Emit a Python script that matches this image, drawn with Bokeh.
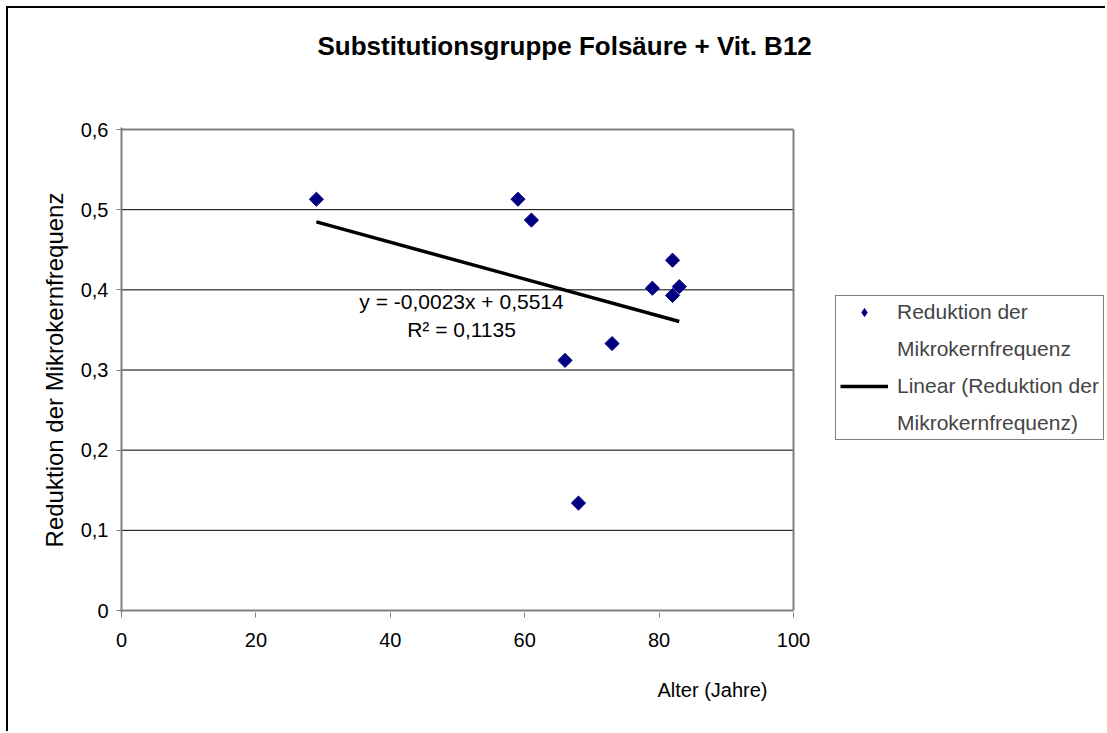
import numpy as np
from bokeh.plotting import figure
from bokeh.models import Legend, LegendItem, Label, Title, Range1d
from bokeh.embed import file_html
from bokeh.resources import INLINE

# ---------------- data ----------------
title_text = "Substitutionsgruppe Folsäure + Vit. B12"
x_label = "Alter (Jahre)"
y_label = "Reduktion der Mikrokernfrequenz"

age = [29, 59, 61, 66, 68, 73, 79, 82, 82, 83]
reduction = [0.513, 0.513, 0.487, 0.312, 0.134, 0.333, 0.402, 0.437, 0.393, 0.404]

series_name_lines = ["Reduktion der", "Mikrokernfrequenz"]
trend_name_lines = ["Linear (Reduktion der", "Mikrokernfrequenz)"]
trend_slope = -0.0023
trend_intercept = 0.5514
equation_text = "y = -0,0023x + 0,5514\nR² = 0,1135"

x_axis_min, x_axis_max = 0, 100
y_axis_min, y_axis_max = 0, 0.6
x_ticks = [0, 20, 40, 60, 80, 100]
x_tick_labels = ["0", "20", "40", "60", "80", "100"]
y_ticks = [0, 0.1, 0.2, 0.3, 0.4, 0.5, 0.6]
y_tick_labels = ["0", "0,1", "0,2", "0,3", "0,4", "0,5", "0,6"]

# ---------------- layout (pixels) ----------------
FONT = "Liberation Sans"
GRAY = "#808080"
CANVAS_W, CANVAS_H = 1099, 725          # canvas starts at (8, 8) on the page
PLOT_LEFT, PLOT_RIGHT = 121, 793         # page x of the plot area edges
PLOT_TOP, PLOT_BOTTOM = 129, 610         # page y of the plot area edges
FRAME_RIGHT = 1106                       # frame extends under the legend
PAD = 2                                  # keeps border lines unclipped

x_end = x_axis_max * (FRAME_RIGHT - PLOT_LEFT) / (PLOT_RIGHT - PLOT_LEFT)
y_per_px = (y_axis_max - y_axis_min) / (PLOT_BOTTOM - PLOT_TOP)

p = figure(width=CANVAS_W, height=CANVAS_H,
           x_range=Range1d(x_axis_min, x_end),
           y_range=Range1d(y_axis_min - PAD * y_per_px, y_axis_max + PAD * y_per_px),
           output_backend="svg", toolbar_location=None,
           min_border_left=PLOT_LEFT - 8, min_border_right=8 + CANVAS_W - FRAME_RIGHT,
           min_border_top=PLOT_TOP - PAD - 8, min_border_bottom=733 - PLOT_BOTTOM - PAD)
p.margin = (6, 0, 0, 6)
p.styles = {"border-top": "2px solid #000000", "border-left": "2px solid #000000"}
p.background_fill_color = "white"
p.border_fill_color = "white"
p.outline_line_color = None

# spacer between frame and title (closest to the frame)
spacer = Title(text=" ", text_font_size="10px", standoff=35, align="left")
p.add_layout(spacer, "above")

# title
p.title.text = title_text
p.title.align = "left"
p.title.offset = 196
p.title.standoff = 38
p.title.text_font = FONT
p.title.text_font_size = "26px"
p.title.text_font_style = "bold"
p.title.text_color = "black"

# axes
for ax in (p.xaxis, p.yaxis):
    ax.axis_line_color = GRAY
    ax.axis_line_width = 2
    ax.major_tick_line_color = GRAY
    ax.major_tick_line_width = 1
    ax.major_tick_out = 5
    ax.major_tick_in = 0
    ax.minor_tick_line_color = None
    ax.major_label_text_font = FONT
    ax.major_label_text_font_size = "20px"
    ax.major_label_text_color = "black"

p.xaxis.axis_line_color = None          # drawn below, only from 0 to 100
p.xaxis.ticker = x_ticks
p.xaxis.major_label_overrides = dict(zip(x_ticks, x_tick_labels))
p.xaxis.major_label_standoff = 15

p.yaxis.ticker = y_ticks
p.yaxis.major_label_overrides = dict(zip(y_ticks, y_tick_labels))
p.yaxis.major_label_standoff = 8
p.yaxis.axis_label = y_label
p.yaxis.axis_label_text_font = FONT
p.yaxis.axis_label_text_font_size = "24px"
p.yaxis.axis_label_text_font_style = "normal"
p.yaxis.axis_label_text_color = "black"
p.yaxis.axis_label_standoff = 10

p.xgrid.visible = False
p.ygrid.visible = False

# x-axis title, placed right of centre as in the original
xt = Title(text=x_label, align="left", offset=536, standoff=54,
           text_font=FONT, text_font_size="20px", text_font_style="normal",
           text_color="black")
p.add_layout(xt, "below")

# equation label (drawn under the trend line)
eq = Label(x=50.6, y=0.368, text=equation_text, text_align="center",
           text_baseline="middle", text_font=FONT, text_font_size="21px",
           text_color="black", level="underlay")
p.add_layout(eq)

# horizontal gridlines across the plot area only
grid_y = y_ticks[1:-1]
p.segment(x0=[x_axis_min] * len(grid_y), y0=grid_y,
          x1=[x_axis_max] * len(grid_y), y1=grid_y,
          line_color="black", line_width=1)
# plot-area border (top, right) and the x axis line
p.segment(x0=[x_axis_min, x_axis_max, x_axis_min],
          y0=[y_axis_max, y_axis_min, y_axis_min],
          x1=[x_axis_max, x_axis_max, x_axis_max],
          y1=[y_axis_max, y_axis_max, y_axis_min],
          line_color=GRAY, line_width=2)

# trend line
tx = np.array([min(age), max(age)], dtype=float)
ty = trend_slope * tx + trend_intercept
ln = p.line(tx, ty, line_color="black", line_width=3.5)

# data points
sc = p.scatter(age, reduction, marker="square", angle=np.pi / 4, size=10,
               fill_color="#000080", line_color="#000080")

# legend-only renderers (a NaN point draws nothing in the plot)
sc_key = p.scatter(x=[np.nan], y=[np.nan], marker="diamond", size=15,
                   fill_color="#000080", line_color="#000080")
blank = p.scatter(x=[np.nan], y=[np.nan], fill_alpha=0, line_alpha=0)

legend = Legend(items=[LegendItem(label=series_name_lines[0], renderers=[sc_key]),
                       LegendItem(label=series_name_lines[1], renderers=[blank]),
                       LegendItem(label=trend_name_lines[0], renderers=[ln]),
                       LegendItem(label=trend_name_lines[1], renderers=[blank])],
                location=(835 - PLOT_LEFT, PLOT_BOTTOM + PAD - 440))
legend.border_line_color = "black"
legend.border_line_width = 1
legend.background_fill_color = "white"
legend.background_fill_alpha = 1
legend.label_text_font = FONT
legend.label_text_font_size = "21px"
legend.glyph_width = 48
legend.glyph_height = 20
legend.label_height = 24
legend.label_standoff = 9
legend.padding = 4
legend.spacing = 13
legend.margin = 0
p.add_layout(legend)

open("out.html", "w").write(file_html(p, INLINE))
